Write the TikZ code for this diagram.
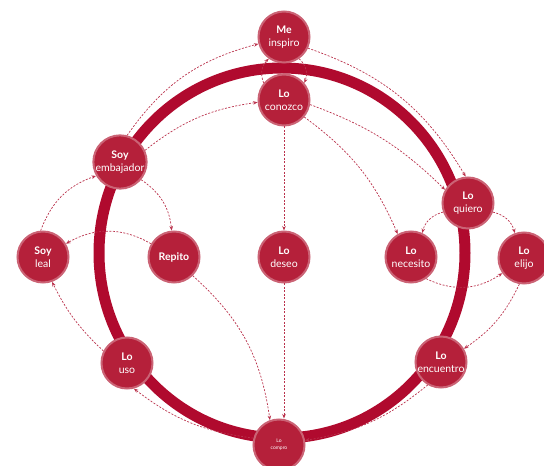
\documentclass[tikz,border=0pt]{standalone}
\usepackage{fontspec}
\setmainfont{Lato}
\usetikzlibrary{arrows.meta}
\definecolor{ringred}{RGB}{176,10,46}
\definecolor{bubblered}{RGB}{181,32,58}
\definecolor{linkred}{RGB}{186,50,76}
\begin{document}
\begin{tikzpicture}[x=1pt, y=1pt,
    bubble/.style={circle, fill=bubblered, draw=bubblered!70, line width=2pt,
      text=white, minimum size=51pt, inner sep=0pt, align=center,
      font=\fontsize{10.5}{12.5}\selectfont},
    link/.style={linkred, line width=0.7pt, dash pattern=on 2pt off 1.5pt,
      -{Stealth[length=4.5pt, width=3.5pt]}}]
      \useasboundingbox (0,0) rectangle (544,466);
      % the big ring
      \draw[ringred, line width=11pt] (282,213) ellipse (183 and 185);
      % bubbles
      \node[bubble] (inspiro)   at (284,429) {\bfseries Me\\inspiro};
      \node[bubble] (conozco)   at (284,366) {\bfseries Lo\\conozco};
      \node[bubble] (embajador) at (120,304) {\bfseries Soy\\embajador};
      \node[bubble] (leal)      at (43,209)  {\bfseries Soy\\leal};
      \node[bubble] (repito)    at (174,209) {\bfseries Repito};
      \node[bubble] (deseo)     at (284,209) {\bfseries Lo\\deseo};
      \node[bubble] (necesito)  at (411,209) {\bfseries Lo\\necesito};
      \node[bubble] (quiero)    at (468,263) {\bfseries Lo\\quiero};
      \node[bubble] (elijo)     at (524,208) {\bfseries Lo\\elijo};
      \node[bubble] (uso)       at (127,103) {\bfseries Lo\\uso};
      \node[bubble] (encuentro) at (441,104) {\bfseries Lo\\encuentro};
      \node[bubble, font=\fontsize{5}{7}\selectfont] (compro) at (279,21) {Lo\\compro};
      % links
      \draw[link] (embajador.75) to[bend left=20] (inspiro.195);
      \draw[link] (inspiro.-25) to[bend left=20] (quiero.95);
      \draw[link] (conozco.140) to[bend left=35] (inspiro.235);
      \draw[link] (inspiro.-55) to[bend left=35] (conozco.40);
      \draw[link] (embajador.25) to[bend left=15] (conozco.185);
      \draw[link] (conozco) -- (deseo);
      \draw[link] (conozco.-10) to[bend left=12] (quiero.150);
      \draw[link] (conozco.-40) to[bend left=15] (necesito.120);
      \draw[link] (quiero.200) to[bend right=30] (necesito.65);
      \draw[link] (quiero.-20) to[bend left=30] (elijo.110);
      \draw[link] (necesito.-55) to[bend right=30] (elijo.215);
      \draw[link] (elijo.-100) to[bend left=15] (encuentro.30);
      \draw[link] (encuentro.-120) to[bend left=15] (compro.10);
      \draw[link] (compro.165) to[bend left=15] (uso.-75);
      \draw[link] (uso.153) to[bend left=10] (leal.-70);
      \draw[link] (leal.95) to[bend left=25] (embajador.210);
      \draw[link] (embajador.-40) to[bend left=25] (repito.95);
      \draw[link] (repito.150) to[bend right=30] (leal.30);
      \draw[link] (repito.-45) to[bend left=20] (compro.110);
      \draw[link] (deseo) -- (deseo |- compro.north);
\end{tikzpicture}
\end{document}
